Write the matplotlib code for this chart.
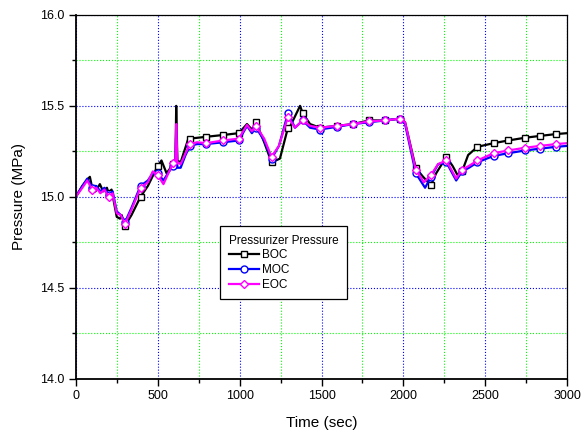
import numpy as np
import matplotlib
matplotlib.use('Agg')
import matplotlib.pyplot as plt
from matplotlib.ticker import MultipleLocator

plt.rcParams['font.family'] = ['Liberation Sans', 'DejaVu Sans']

# Pressurizer pressure transients (sec, MPa) for three core burnup states
boc_t = [0, 40, 75, 86, 100, 120, 147, 167, 190, 200, 218, 250, 270, 280, 300, 340, 395,
         440, 500, 523, 554, 595, 608, 613, 620, 640, 687, 697, 795, 900, 995, 1045, 1075,
         1100, 1150, 1195, 1246, 1295, 1310, 1369, 1385, 1430, 1490, 1593, 1694, 1790, 1888,
         1980, 2010, 2075, 2120, 2168, 2200, 2262, 2300, 2330, 2358, 2395, 2452, 2550, 2641,
         2743, 2835, 2931, 3000]
boc_p = [15.00, 15.06, 15.10, 15.11, 15.05, 15.03, 15.07, 15.03, 15.05, 15.02, 15.04, 14.89,
         14.88, 14.90, 14.84, 14.90, 15.00, 15.06, 15.17, 15.20, 15.13, 15.18, 15.19, 15.50,
         15.20, 15.19, 15.32, 15.32, 15.33, 15.34, 15.35, 15.40, 15.37, 15.41, 15.30, 15.19,
         15.21, 15.38, 15.39, 15.50, 15.46, 15.40, 15.38, 15.39, 15.40, 15.42, 15.42, 15.43,
         15.41, 15.16, 15.11, 15.065, 15.13, 15.22, 15.17, 15.12, 15.14, 15.23, 15.275, 15.295,
         15.31, 15.325, 15.335, 15.345, 15.35]

moc_t = [0, 40, 70, 100, 125, 150, 175, 200, 225, 250, 275, 300, 340, 395, 440, 470, 500,
         535, 570, 595, 608, 613, 620, 640, 670, 697, 740, 795, 900, 995, 1045, 1075, 1100,
         1150, 1195, 1240, 1295, 1338, 1385, 1430, 1490, 1593, 1694, 1790, 1888, 1980, 2010,
         2075, 2132, 2168, 2212, 2262, 2322, 2358, 2400, 2452, 2550, 2641, 2743, 2835, 2931, 3000]
moc_p = [15.00, 15.06, 15.10, 15.05, 15.06, 15.03, 15.05, 15.01, 15.03, 14.92, 14.90, 14.86,
         14.94, 15.06, 15.09, 15.13, 15.13, 15.09, 15.14, 15.17, 15.18, 15.36, 15.16, 15.16,
         15.23, 15.28, 15.29, 15.29, 15.30, 15.31, 15.39, 15.35, 15.38, 15.31, 15.21, 15.28,
         15.46, 15.38, 15.42, 15.38, 15.37, 15.385, 15.40, 15.41, 15.42, 15.43, 15.40, 15.13,
         15.05, 15.11, 15.18, 15.19, 15.09, 15.14, 15.16, 15.19, 15.225, 15.24, 15.255, 15.265,
         15.275, 15.28]

eoc_t = [0, 40, 70, 100, 125, 150, 175, 200, 225, 250, 275, 300, 340, 395, 440, 470, 500,
         535, 570, 595, 608, 613, 620, 640, 670, 697, 740, 795, 900, 995, 1045, 1075, 1100,
         1150, 1195, 1240, 1295, 1338, 1385, 1430, 1490, 1593, 1694, 1790, 1888, 1980, 2010,
         2075, 2125, 2168, 2212, 2262, 2322, 2358, 2400, 2452, 2550, 2641, 2743, 2835, 2931, 3000]
eoc_p = [15.00, 15.05, 15.09, 15.04, 15.05, 15.02, 15.04, 15.00, 15.02, 14.91, 14.90, 14.85,
         14.93, 15.05, 15.08, 15.14, 15.12, 15.07, 15.14, 15.185, 15.20, 15.40, 15.19, 15.18,
         15.24, 15.29, 15.30, 15.295, 15.31, 15.32, 15.395, 15.36, 15.39, 15.32, 15.22, 15.28,
         15.44, 15.38, 15.42, 15.39, 15.38, 15.39, 15.40, 15.415, 15.42, 15.43, 15.41, 15.15,
         15.08, 15.12, 15.18, 15.20, 15.10, 15.15, 15.17, 15.20, 15.24, 15.255, 15.27, 15.28,
         15.29, 15.295]

# times at which the output symbols were written
mark_t = [100, 200, 300, 395, 500, 595, 697, 795, 900, 995, 1100, 1195, 1295, 1385, 1490,
          1593, 1694, 1790, 1888, 1980, 2075, 2168, 2262, 2358, 2452, 2550, 2641, 2743,
          2835, 2931]

series = [
    ("BOC", boc_t, boc_p, 'black', 's'),
    ("MOC", moc_t, moc_p, 'blue', 'o'),
    ("EOC", eoc_t, eoc_p, '#ff00ff', 'D'),
]

fig = plt.figure(figsize=(5.83, 4.37), dpi=100)
ax = fig.add_axes([0.130, 0.133, 0.843, 0.833])

for name, t, p, color, marker in series:
    t = np.asarray(t)
    idx = list(np.where(np.isin(t, mark_t))[0])
    ms = 4.2 if marker == 'D' else 5
    ax.plot(t, p, color=color, lw=1.6, marker=marker, markevery=idx, ms=ms,
            mfc='white', mec=color, mew=1.0, label=name)

ax.set_xlim(0, 3000)
ax.set_ylim(14.0, 16.0)
ax.xaxis.set_major_locator(MultipleLocator(500))
ax.xaxis.set_minor_locator(MultipleLocator(250))
ax.yaxis.set_major_locator(MultipleLocator(0.5))
ax.yaxis.set_minor_locator(MultipleLocator(0.25))
ax.yaxis.set_major_formatter(matplotlib.ticker.FormatStrFormatter('%.1f'))

ax.grid(which='major', color='#0000ff', linestyle=':', linewidth=0.8)
ax.grid(which='minor', color='#00ff00', linestyle=':', linewidth=0.8)
ax.set_axisbelow(True)

ax.tick_params(which='major', direction='out', length=5, width=1.0, labelsize=9, pad=3,
               top=False, right=False)
ax.tick_params(which='minor', direction='out', length=3, width=1.0, top=False, right=False)
for side in ['left', 'bottom']:
    ax.spines[side].set_linewidth(1.3)
for side in ['top', 'right']:
    ax.spines[side].set_linewidth(0.9)

ax.set_xlabel("Time (sec)", fontsize=11, labelpad=10)
ax.set_ylabel("Pressure (MPa)", fontsize=11, labelpad=10)

leg = ax.legend(title="Pressurizer Pressure", loc='upper left', bbox_to_anchor=(0.293, 0.42),
                fontsize=8.5, title_fontsize=8.5, frameon=True, fancybox=False,
                edgecolor='black', framealpha=1, handlelength=2.6, handletextpad=0.25,
                labelspacing=0.22, borderpad=0.75, borderaxespad=0)
leg.get_frame().set_linewidth(0.9)
leg._legend_box.align = "left"

fig.savefig('out.png', dpi=100, facecolor='white')
